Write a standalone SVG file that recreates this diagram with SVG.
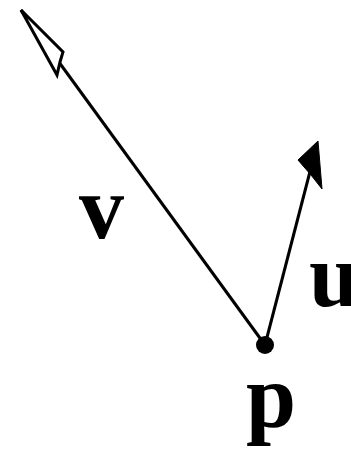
<svg xmlns="http://www.w3.org/2000/svg" width="351" height="450" viewBox="0 0 351 450">
<style>
.ln{stroke:#000;stroke-width:3;fill:none}
.lbl{font-family:"Liberation Serif","Times New Roman",serif;font-weight:bold;font-size:90px;fill:#000}
</style>
<rect width="351" height="450" fill="#fff"/>
<g id="connectors">
<line class="ln" x1="265" y1="345" x2="21" y2="10"/>
<polygon points="21,10 63,52 60,62 57,75" fill="#fff" stroke="#000" stroke-width="3" stroke-linejoin="miter"/>
<line class="ln" x1="265" y1="345" x2="313" y2="160"/>
<polygon points="318,141 322,189 311,175 298,160" fill="#000" stroke="#000" stroke-width="1"/>
</g>
<g id="p"><circle cx="265" cy="345" r="9" fill="#000"/><text class="lbl" x="246" y="427">p</text></g>
<g id="v"><text class="lbl" x="79" y="238">v</text></g>
<g id="u"><text class="lbl" x="309" y="306">u</text></g>
</svg>
